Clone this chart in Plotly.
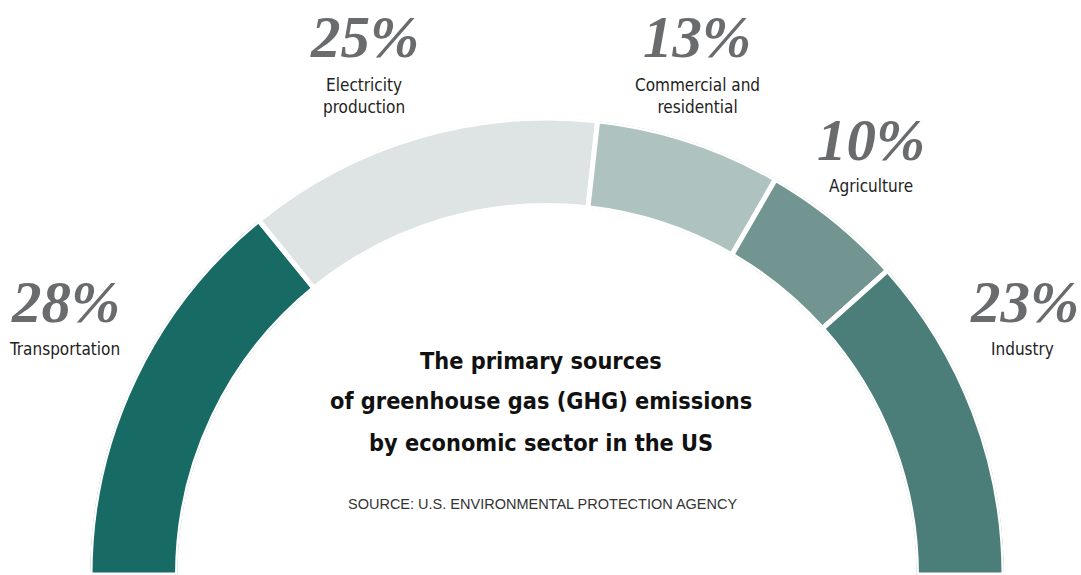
import plotly.graph_objects as go

# ---- data ----
sectors = ["Transportation", "Electricity production", "Commercial and residential", "Agriculture", "Industry"]
label_text = ["Transportation", "Electricity<br>production", "Commercial and<br>residential", "Agriculture", "Industry"]
shares = [28, 25, 13, 10, 23]
colors = ["#176b64", "#dde4e3", "#aec2c0", "#729591", "#4c7e79"]
title_lines = ["The primary sources", "of greenhouse gas (GHG) emissions", "by economic sector in the US"]
source_text = "SOURCE: U.S. ENVIRONMENTAL PROTECTION AGENCY"

W, H = 1081, 575
total = sum(shares)
widths = [s / total * 180 for s in shares]
centers = []
acc = 0
for w in widths:
    centers.append(acc + w / 2)
    acc += w

# geometry (pixels)
cx = 547
R_out = 457
R_in = 369.5

COND = "DejaVu Sans Condensed, DejaVu Sans, Liberation Sans"

fig = go.Figure()
fig.add_trace(go.Barpolar(
    r=[1] * len(shares),
    theta=centers,
    width=widths,
    base=0,
    marker=dict(color=colors, line=dict(color="white", width=5)),
    hoverinfo="text",
    text=[f"{s}: {v}%" for s, v in zip(sectors, shares)],
    showlegend=False,
))

def px(x, y):
    return x / W, 1 - y / H

# label positions in pixels (percent centre, label centre)
pct_pos = [(65, 302), (364, 37), (697, 37), (871, 140), (1024, 302)]
lab_pos = [(64, 349), (364, 96), (697, 96), (871, 186), (1022, 349)]

annotations = []
for v, t, (x1, y1), (x2, y2) in zip(shares, label_text, pct_pos, lab_pos):
    ax, ay = px(x1, y1)
    annotations.append(dict(x=ax, y=ay, xref="paper", yref="paper", text=f"{v}%",
                            showarrow=False, xanchor="center", yanchor="middle",
                            font=dict(family="Liberation Serif", size=59, color="#6a6b6d",
                                      weight="bold", style="italic")))
    bx, by = px(x2, y2)
    annotations.append(dict(x=bx, y=by, xref="paper", yref="paper", text=t,
                            showarrow=False, xanchor="center", yanchor="middle",
                            font=dict(family=COND, size=17, color="#222222")))

for line, yy in zip(title_lines, [360, 401, 442]):
    tx, ty = px(541, yy)
    annotations.append(dict(x=tx, y=ty, xref="paper", yref="paper",
                            text=line, showarrow=False, xanchor="center", yanchor="middle",
                            font=dict(family=COND, size=23.3, color="#111111", weight="bold")))
sx, sy = px(542, 504)
annotations.append(dict(x=sx, y=sy, xref="paper", yref="paper",
                        text=source_text,
                        showarrow=False, xanchor="center", yanchor="middle",
                        font=dict(family="Liberation Sans", size=14.5, color="#333333")))

fig.update_layout(
    width=W, height=H,
    margin=dict(l=0, r=0, t=0, b=0),
    paper_bgcolor="white",
    plot_bgcolor="white",
    polar=dict(
        domain=dict(x=[(cx - R_out) / W, (cx + R_out) / W], y=[0, R_out / H]),
        sector=[0, 180],
        hole=R_in / R_out,
        bgcolor="white",
        radialaxis=dict(visible=False, range=[0, 1]),
        angularaxis=dict(visible=False, rotation=180, direction="clockwise"),
    ),
    annotations=annotations,
)

fig.write_html("out.html")
